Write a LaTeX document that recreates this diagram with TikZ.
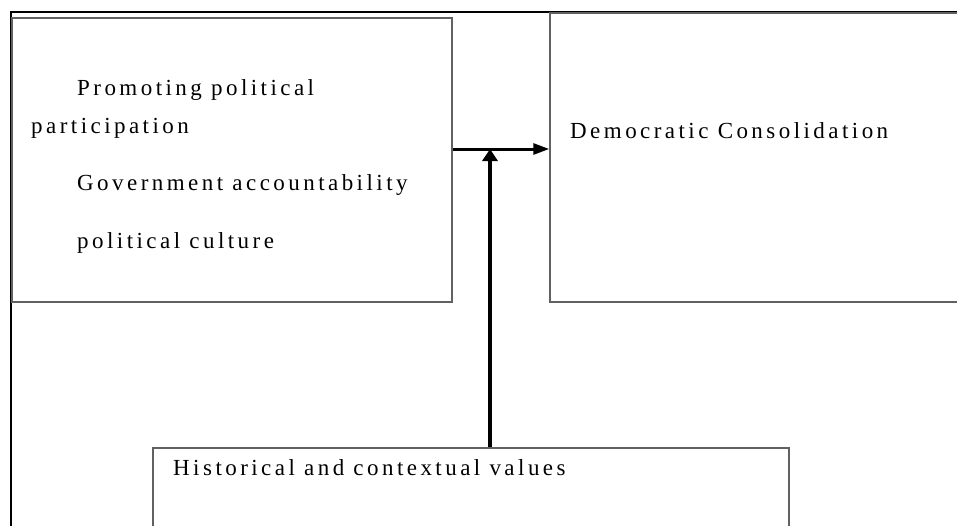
\documentclass[tikz,border=0pt]{standalone}
\usepackage{fontspec}
\setmainfont{Liberation Serif}[LetterSpace=15]
\usepackage{tikz}
\usetikzlibrary{calc}
\usetikzlibrary{arrows.meta}
\definecolor{MyBoxGrey}{rgb}{0.38,0.38,0.38}

\begin{document}
\begin{tikzpicture}[x=1pt, y=-1pt]
       \tikzstyle{every node}=[font=\fontsize{23}{27}\selectfont]
       \tikzstyle{box}=[draw=MyBoxGrey, line width=1.5pt, inner sep=0pt]
       \tikzstyle{label}=[anchor=base west, inner sep=0pt]
       \tikzstyle{flow}=[line width=3pt, -{Triangle[length=16pt, width=11pt]}]
        \useasboundingbox (0,0) rectangle (957,525);
        \clip (0,0) rectangle (957,525);
        \draw[line width=2pt] (11,12) rectangle (1020,600);
        \node[box, minimum width=440pt, minimum height=284pt] (factors) at (232,160) {};
        \node[box, minimum width=460pt, minimum height=289pt] (demo) at (780,157.5) {};
        \node[box, minimum width=636pt, minimum height=132pt] (history) at (471,514) {};
        \node[label] (promoting) at (77,95) {Promoting political};
        \node[label] (participation) at (31,133) {participation};
        \node[label] (accountability) at (77,190) {Government accountability};
        \node[label] (culture) at (77,248) {political culture};
        \node[label] (consolidation) at (570,138) {Democratic Consolidation};
        \node[label] (values) at (173,475) {Historical and contextual values};
        \coordinate (junction) at (490,149);
        \draw[flow] (factors.east |- junction) -- (demo.west |- junction);
        \draw[flow, line width=4pt, -{Triangle[length=12pt, width=15pt]}] (history.north -| junction) -- (junction);
      \end{tikzpicture}
\end{document}
